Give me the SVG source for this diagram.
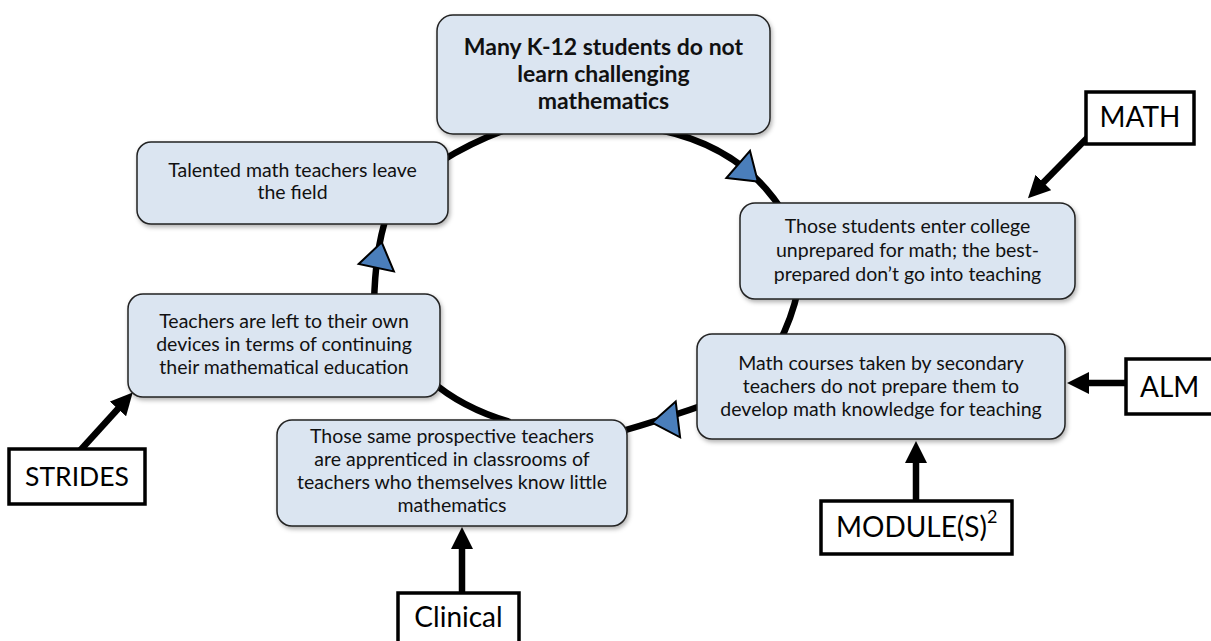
<svg xmlns="http://www.w3.org/2000/svg" xmlns:xlink="http://www.w3.org/1999/xlink" width="1211" height="641" viewBox="0 0 1211 641">
<style>
.node{fill:#dbe5f1;stroke:#222;stroke-width:1.5;filter:url(#sh)}
.lab{fill:#fff;stroke:#000;stroke-width:3.5}
.arc{fill:none;stroke:#000;stroke-width:6.5}
.inp{fill:none;stroke:#000;stroke-width:6.5;marker-end:url(#ah)}
.blue{fill:#4a7ebb;stroke:#000;stroke-width:2;stroke-linejoin:miter}
.t{font-family:Lato,"Liberation Sans",sans-serif;font-size:19.5px;fill:#111;text-anchor:middle}
.tb{font-family:Lato,"Liberation Sans",sans-serif;font-size:23px;font-weight:bold;fill:#111;text-anchor:middle}
.tl{font-family:Lato,"Liberation Sans",sans-serif;font-size:28px;fill:#000;text-anchor:middle}
</style>
<defs>
<filter id="sh" x="-10%" y="-10%" width="125%" height="135%">
<feDropShadow dx="1.5" dy="2.5" stdDeviation="2" flood-color="#000" flood-opacity="0.3"/>
</filter>
<marker id="ah" markerUnits="userSpaceOnUse" markerWidth="22" markerHeight="22" refX="12" refY="11" orient="auto">
<path d="M0,0 L22,11 L0,22 Z" fill="#000"/>
</marker>
<path id="tri" d="M13,0 L-13,-18 L-13,18 Z"/>
</defs>
<g id="connectors">
<path class="arc" d="M660,130 Q745,148 785,215"/>
<path class="arc" d="M798,290 Q792,318 778,345"/>
<path class="arc" d="M712,402 Q668,418 612,434"/>
<path class="arc" d="M430,380 Q462,408 510,422"/>
<path class="arc" d="M374,305 Q375,250 387,215"/>
<path class="arc" d="M440,162 Q470,143 505,130"/>
<use xlink:href="#tri" class="blue" transform="translate(748,173) rotate(41)"/>
<use xlink:href="#tri" class="blue" transform="translate(665,421) rotate(173)"/>
<use xlink:href="#tri" class="blue" transform="translate(379,255) rotate(-78)"/>
<path class="inp" d="M1092,133 L1035,191"/>
<path class="inp" d="M1130,383 L1077,383"/>
<path class="inp" d="M916,505 L916,451"/>
<path class="inp" d="M462,597 L462,537"/>
<path class="inp" d="M76,455 L126,400"/>
</g>
<g id="node-top">
<rect class="node" x="437" y="15" width="333" height="119" rx="16"/>
<text class="tb" x="603.5" y="55">Many K-12 students do not</text>
<text class="tb" x="603.5" y="82">learn challenging</text>
<text class="tb" x="603.5" y="109">mathematics</text>
</g>
<g id="node-students">
<rect class="node" x="740" y="203" width="335" height="96" rx="15"/>
<text class="t" x="907.5" y="233">Those students enter college</text>
<text class="t" x="907.5" y="257">unprepared for math; the best-</text>
<text class="t" x="907.5" y="281">prepared don’t go into teaching</text>
</g>
<g id="node-courses">
<rect class="node" x="697" y="334" width="368" height="105" rx="15"/>
<text class="t" x="881" y="370">Math courses taken by secondary</text>
<text class="t" x="881" y="393">teachers do not prepare them to</text>
<text class="t" x="881" y="416">develop math knowledge for teaching</text>
</g>
<g id="node-apprentice">
<rect class="node" x="277" y="420" width="350" height="106" rx="15"/>
<text class="t" x="452" y="443">Those same prospective teachers</text>
<text class="t" x="452" y="466">are apprenticed in classrooms of</text>
<text class="t" x="452" y="489">teachers who themselves know little</text>
<text class="t" x="452" y="512">mathematics</text>
</g>
<g id="node-devices">
<rect class="node" x="128" y="294" width="312" height="103" rx="15"/>
<text class="t" x="284" y="328">Teachers are left to their own</text>
<text class="t" x="284" y="351">devices in terms of continuing</text>
<text class="t" x="284" y="374">their mathematical education</text>
</g>
<g id="node-talented">
<rect class="node" x="137" y="142" width="311" height="82" rx="14"/>
<text class="t" x="292.5" y="177">Talented math teachers leave</text>
<text class="t" x="292.5" y="199">the field</text>
</g>
<g id="label-math">
<rect class="lab" x="1086" y="92" width="108" height="52"/>
<text class="tl" x="1140" y="127">MATH</text>
</g>
<g id="label-alm">
<rect class="lab" x="1126" y="359" width="100" height="55"/>
<text class="tl" x="1140" y="397" style="text-anchor:start">ALM</text>
</g>
<g id="label-modules">
<rect class="lab" x="821" y="501" width="191" height="53"/>
<text class="tl" x="836" y="537" style="text-anchor:start">MODULE(S)<tspan font-size="18" dy="-14">2</tspan></text>
</g>
<g id="label-strides">
<rect class="lab" x="9" y="449" width="136" height="55"/>
<text class="tl" x="77" y="486" style="font-size:26.5px">STRIDES</text>
</g>
<g id="label-clinical">
<rect class="lab" x="398" y="593" width="121" height="60"/>
<text class="tl" x="458.5" y="627">Clinical</text>
</g>
</svg>
